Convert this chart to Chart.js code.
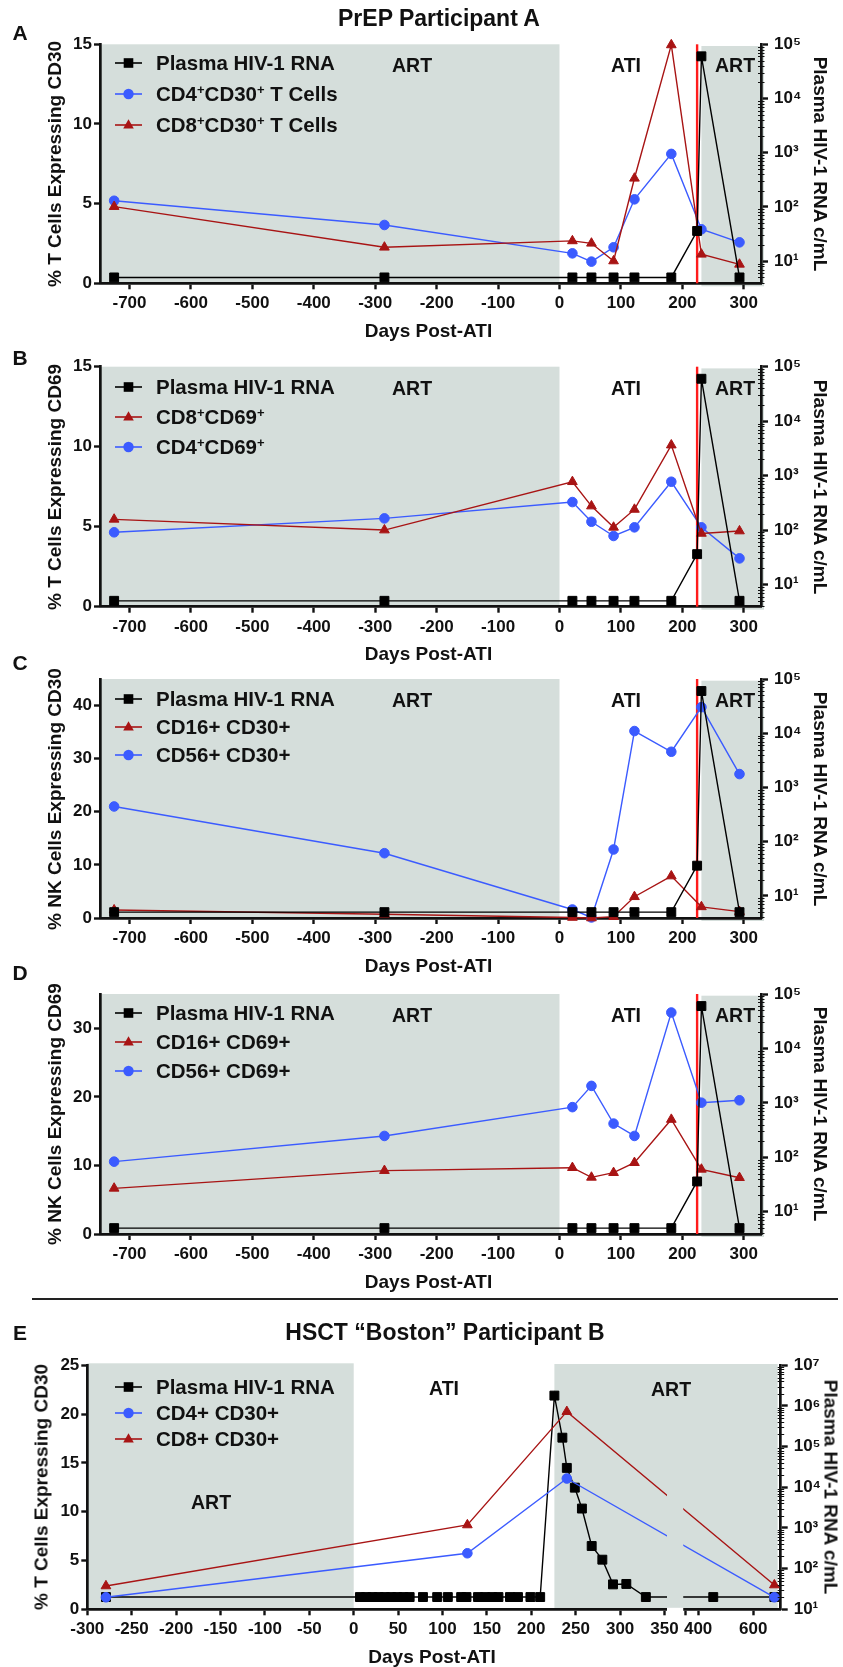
<!DOCTYPE html>
<html>
<head>
<meta charset="utf-8">
<title>CD30 / CD69 expression and plasma HIV-1 RNA</title>
<script src="https://cdn.jsdelivr.net/npm/chart.js@4.4.1/dist/chart.umd.min.js"></script>
<style>
  html, body { margin:0; padding:0; background:#fff; }
  #page { position:relative; width:843px; height:1667px; overflow:hidden; background:#fff;
          font-family:'Liberation Sans', Arial, Helvetica, sans-serif; font-weight:bold; color:#111; }
  #page canvas { position:absolute; left:0; top:0; }
  .t { position:absolute; white-space:nowrap; line-height:1; transform:translate(-50%,-50%); }
  .rl { transform:translate(-50%,-50%) rotate(-90deg); }
  .rr { transform:translate(-50%,-50%) rotate(90deg); }
  .lg { position:absolute; white-space:nowrap; line-height:1; font-size:20.5px; transform:translateY(-50%); }
  .lg sup { font-size:13px; line-height:0; vertical-align:0.5em; }
  .ic { position:absolute; }
  #sep { position:absolute; left:32px; top:1298px; width:806px; height:2px; background:#222; }
</style>
</head>
<body>
<div id="page">
  <canvas id="cA" width="843" height="1667"></canvas>
  <canvas id="cB" width="843" height="1667"></canvas>
  <canvas id="cC" width="843" height="1667"></canvas>
  <canvas id="cD" width="843" height="1667"></canvas>
  <canvas id="cE" width="843" height="1667"></canvas>
  <div id="sep"></div>
</div>
<script>
// ---------------- DATA ----------------
// Participant A (PrEP) – sampling days (days post-ATI)
const daysA = [-725, -285, 21, 52, 88, 122, 182, 231, 293];
const plasmaDaysA = [-725, -285, 21, 52, 88, 122, 182, 224, 231, 293];
const plasmaA = [5, 5, 5, 5, 5, 5, 5, 36, 60000, 5];           // c/mL
// Panel A – % T cells expressing CD30
const cd4cd30A = [5.18, 3.66, 1.88, 1.36, 2.26, 5.27, 8.12, 3.39, 2.57];
const cd8cd30A = [4.81, 2.26, 2.66, 2.51, 1.40, 6.59, 14.96, 1.82, 1.19];
// Panel B – % T cells expressing CD69
const cd8cd69B = [5.46, 4.79, 7.81, 6.29, 4.96, 6.08, 10.1, 4.58, 4.73];
const cd4cd69B = [4.65, 5.52, 6.54, 5.31, 4.42, 4.96, 7.81, 4.96, 3.02];
// Panel C – % NK cells expressing CD30
const cd16cd30C = [1.5, 0.7, 0.1, 0.0, 0.25, 4.0, 7.9, 2.1, 1.2];
const cd56cd30C = [21.0, 12.2, 1.6, 0.1, 12.9, 35.2, 31.3, 39.7, 27.1];
// Panel D – % NK cells expressing CD69
const cd16cd69D = [6.66, 9.24, 9.67, 8.26, 8.94, 10.4, 16.7, 9.43, 8.21];
const cd56cd69D = [10.55, 14.3, 18.5, 21.6, 16.1, 14.3, 32.3, 19.15, 19.5];
// Participant B (HSCT "Boston")
const daysE = [-279, 128, 240, 677];
const cd4cd30E = [1.23, 5.74, 13.4, 1.23];
const cd8cd30E = [2.39, 8.64, 20.25, 2.49];
const plasmaDaysE = [-279, 7, 14, 21, 28, 35, 42, 49, 56, 63, 78, 94, 106, 121, 127, 140, 148, 156, 163, 176, 185, 199, 210,
                     226, 235, 240, 249, 257, 268, 280, 292, 307, 329, 455, 677];
const plasmaE = [20, 20, 20, 20, 20, 20, 20, 20, 20, 20, 20, 20, 20, 20, 20, 20, 20, 20, 20, 20, 20, 20, 20,
                 1800000, 166000, 30000, 9800, 3000, 360, 166, 41, 42, 20, 20, 20];
// Treatment periods
const artStopDay = 0;            // ART interrupted
const artRestartA = 231;         // ART re-started (participant A)
const markerDayA = 224;          // red vertical marker
const artRestartE = 226;         // ART re-started (participant B)
// Tick labels
const xTicksA = [-700, -600, -500, -400, -300, -200, -100, 0, 100, 200, 300];
const xTicksE = [-300, -250, -200, -150, -100, -50, 0, 50, 100, 150, 200, 250, 300, 350, 400, 600];
const yTicksA = [0, 5, 10, 15];
const yTicksC = [0, 10, 20, 30, 40];
const yTicksD = [0, 10, 20, 30];
const yTicksE = [0, 5, 10, 15, 20, 25];
const logTicksA = [10, 100, 1000, 10000, 100000];
const logTicksE = [10, 100, 1000, 10000, 100000, 1000000, 10000000];

// ---------------- STYLE / LAYOUT ----------------
const W = 843, H = 1667;
const GREY = '#d5dedb', BLUE = '#3b5bff', DRED = '#a81414', BLK = '#000', VRED = '#ff1c1c', INK = '#111';
const FONT = "'Liberation Sans', Arial, Helvetica, sans-serif";
const SUP = ['\u2070','\u00b9','\u00b2','\u00b3','\u2074','\u2075','\u2076','\u2077','\u2078','\u2079'];
const LAY = {
  A: {L:100, R:761, T:44.3, B:283.3},
  B: {L:100, R:761, T:366.7, B:606.7},
  C: {L:100, R:761, T:679, B:918},
  D: {L:100, R:761, T:994, B:1234},
  E: {L:87.3, R:780.7, T:1365.3, B:1609.3}
};
// broken x axis for panel E
const BREAK_AT = 350, SEG2_START = 355, GAP = 23.9, SEG2_SCALE = 0.31;
function ue(d) { return d <= BREAK_AT ? d : BREAK_AT + GAP + (d - SEG2_START) * SEG2_SCALE; }

Chart.defaults.font.family = FONT;
Chart.defaults.font.weight = 'bold';
Chart.defaults.font.size = 17;
Chart.defaults.color = INK;

function series(label, xs, ys, color, style, radius, order, axis, xf) {
  return {
    label, yAxisID: axis, order,
    data: xs.map((x, i) => ({x: xf ? xf(x) : x, y: ys[i]})),
    borderColor: color, backgroundColor: color,
    pointBackgroundColor: color, pointBorderColor: color,
    pointStyle: style, pointRadius: radius, pointBorderWidth: 1,
    borderWidth: 1.4, tension: 0, clip: false, fill: false
  };
}
const tickGrid = {drawOnChartArea:false, drawTicks:true, tickLength:6, tickWidth:2.4, tickColor:INK};
const border = {display:true, width:2.7, color:INK};

function decor(cfg) {
  return {
    id: 'decor',
    beforeDraw(chart) {
      const {ctx, chartArea: ca} = chart, xs = chart.scales.x;
      ctx.save(); ctx.fillStyle = GREY;
      cfg.bands.forEach(b => {
        const x0 = b.from === null ? ca.left : xs.getPixelForValue(b.from);
        const x1 = b.to === null ? ca.right + (b.dR || 0) : xs.getPixelForValue(b.to);
        const y0 = ca.top + (b.dT || 0), y1 = ca.bottom + (b.dB || 0);
        ctx.fillRect(x0, y0, x1 - x0, y1 - y0);
      });
      ctx.restore();
    },
    beforeDatasetsDraw(chart) {
      if (cfg.marker === undefined) return;
      const {ctx, chartArea: ca} = chart;
      const x = chart.scales.x.getPixelForValue(cfg.marker);
      ctx.save(); ctx.strokeStyle = VRED; ctx.lineWidth = 2.4;
      ctx.beginPath(); ctx.moveTo(x, ca.top); ctx.lineTo(x, ca.bottom); ctx.stroke();
      ctx.restore();
    },
    afterDatasetsDraw(chart) {
      if (!cfg.gap) return;
      const {ctx, chartArea: ca} = chart, xs = chart.scales.x;
      const xa = xs.getPixelForValue(cfg.gap[0]) + 2.5, xb = xs.getPixelForValue(cfg.gap[1]) - 2.5;
      ctx.save();
      ctx.fillStyle = GREY; ctx.fillRect(xa, ca.top, xb - xa, ca.bottom - ca.top - 1.5);
      ctx.fillStyle = '#fff'; ctx.fillRect(xa, ca.bottom - 1.5, xb - xa, 4);
      ctx.restore();
    },
    afterDraw(chart) {
      const s = chart.scales.y2, {ctx} = chart, x = chart.chartArea.right;
      ctx.save(); ctx.strokeStyle = INK; ctx.lineWidth = 1;
      const e0 = Math.floor(Math.log10(s.min)), e1 = Math.ceil(Math.log10(s.max));
      for (let e = e0; e < e1; e++) {
        for (let m = 2; m <= 9; m++) {
          const v = m * Math.pow(10, e);
          if (v < s.min || v > s.max) continue;
          const y = Math.round(s.getPixelForValue(v)) + 0.5;
          ctx.beginPath(); ctx.moveTo(x - 3, y); ctx.lineTo(x + 3.5, y); ctx.stroke();
        }
      }
      ctx.restore();
    }
  };
}

function makePanel(id, lay, p) {
  return new Chart(document.getElementById(id), {
    type: 'line',
    data: {datasets: p.datasets},
    options: {
      responsive: false, animation: false, events: [], devicePixelRatio: 1,
      layout: {padding: {top: lay.T, bottom: H - lay.B - 40, left: 0, right: 0}},
      plugins: {legend: {display: false}, tooltip: {enabled: false}},
      scales: {
        x: {
          type: 'linear', min: p.xMin, max: p.xMax,
          afterFit: s => { s.height = 40; },
          afterBuildTicks: s => { s.ticks = p.xTickVals.map(v => ({value: v})); },
          ticks: {autoSkip: false, maxRotation: 0, padding: 4, callback: (v, i) => p.xTickLabels[i]},
          grid: tickGrid, border: border
        },
        y: {
          type: 'linear', position: 'left', min: 0, max: p.yMax,
          afterFit: s => { s.width = lay.L; },
          afterBuildTicks: s => { s.ticks = p.yTicks.map(v => ({value: v})); },
          ticks: {padding: 2, callback: v => String(v)},
          grid: tickGrid, border: border
        },
        y2: {
          type: 'logarithmic', position: 'right', min: p.logMin, max: p.logMax,
          afterFit: s => { s.width = W - lay.R; },
          afterBuildTicks: s => { s.ticks = p.logTicks.map(v => ({value: v})); },
          ticks: {padding: 6, callback: v => '10' + SUP[Math.round(Math.log10(v))]},
          grid: Object.assign({}, tickGrid, {tickLength: 7}), border: border
        }
      }
    },
    plugins: [decor(p.decor)]
  });
}

const bandsA = [{from: null, to: artStopDay}, {from: artRestartA, to: null, dT: 1.7, dB: 3, dR: 3}];
function panelAD(id, lay, yMax, yTicks, red, blue, redLabel, blueLabel) {
  return makePanel(id, lay, {
    xMin: -748, xMax: 328, xTickVals: xTicksA, xTickLabels: xTicksA.map(String),
    yMax, yTicks, logMin: 3.9, logMax: 100000, logTicks: logTicksA,
    datasets: [
      series('Plasma HIV-1 RNA', plasmaDaysA, plasmaA, BLK, 'rect', 6.3, 0, 'y2'),
      series(redLabel, daysA, red, DRED, 'triangle', 5.6, 1, 'y'),
      series(blueLabel, daysA, blue, BLUE, 'circle', 4.8, 2, 'y')
    ],
    decor: {bands: bandsA, marker: markerDayA}
  });
}
panelAD('cA', LAY.A, 15, yTicksA, cd8cd30A, cd4cd30A, 'CD8+CD30+ T Cells', 'CD4+CD30+ T Cells');
panelAD('cB', LAY.B, 15, yTicksA, cd8cd69B, cd4cd69B, 'CD8+CD69+', 'CD4+CD69+');
panelAD('cC', LAY.C, 45, yTicksC, cd16cd30C, cd56cd30C, 'CD16+ CD30+', 'CD56+ CD30+');
panelAD('cD', LAY.D, 35, yTicksD, cd16cd69D, cd56cd69D, 'CD16+ CD69+', 'CD56+ CD69+');

const ticksE = xTicksE.map(v => ({u: ue(v), label: String(v)}))
  .concat([{u: ue(SEG2_START), label: ''}]).sort((a, b) => a.u - b.u);
makePanel('cE', LAY.E, {
  xMin: -300, xMax: ue(700), xTickVals: ticksE.map(t => t.u), xTickLabels: ticksE.map(t => t.label),
  yMax: 25, yTicks: yTicksE, logMin: 10, logMax: 10000000, logTicks: logTicksE,
  datasets: [
    series('CD4+ CD30+', daysE, cd4cd30E, BLUE, 'circle', 4.8, 0, 'y', ue),
    series('CD8+ CD30+', daysE, cd8cd30E, DRED, 'triangle', 5.6, 1, 'y', ue),
    series('Plasma HIV-1 RNA', plasmaDaysE, plasmaE, BLK, 'rect', 6.3, 2, 'y2', ue)
  ],
  decor: {bands: [{from: null, to: artStopDay, dT: -2}, {from: ue(artRestartE), to: null, dT: -1.3, dB: -1, dR: -3}],
          gap: [ue(BREAK_AT), ue(SEG2_START)]}
});

// ---------------- TEXT OVERLAYS ----------------
const page = document.getElementById('page');
function txt(x, y, html, size, cls) {
  const d = document.createElement('div');
  d.className = 't' + (cls ? ' ' + cls : '');
  d.style.left = x + 'px'; d.style.top = y + 'px'; d.style.fontSize = size + 'px';
  d.innerHTML = html; page.appendChild(d);
}
const ICONS = {
  rect: c => `<line x1="0" y1="7" x2="27" y2="7" stroke="${c}" stroke-width="1.6"/><rect x="8.7" y="2.2" width="9.6" height="9.6" fill="${c}"/>`,
  circle: c => `<line x1="0" y1="7" x2="27" y2="7" stroke="${c}" stroke-width="1.6"/><circle cx="13.5" cy="7" r="5.2" fill="${c}"/>`,
  triangle: c => `<line x1="0" y1="7" x2="27" y2="7" stroke="${c}" stroke-width="1.6"/><polygon points="13.5,1.3 18.8,10.6 8.2,10.6" fill="${c}"/>`
};
function legend(rows) {
  rows.forEach(r => {
    const s = document.createElementNS('http://www.w3.org/2000/svg', 'svg');
    s.setAttribute('class', 'ic'); s.setAttribute('width', '27'); s.setAttribute('height', '14');
    s.style.left = '115px'; s.style.top = (r.y - 7) + 'px';
    s.innerHTML = ICONS[r.icon](r.color); page.appendChild(s);
    const d = document.createElement('div');
    d.className = 'lg'; d.style.left = '156px'; d.style.top = r.y + 'px';
    d.innerHTML = r.html; page.appendChild(d);
  });
}

// titles and panel letters
txt(439, 18, 'PrEP Participant A', 23);
txt(445, 1332, 'HSCT \u201cBoston\u201d Participant B', 23);
[['A', 32], ['B', 357], ['C', 662], ['D', 972], ['E', 1332]].forEach(p => txt(20, p[1], p[0], 21));

// axis titles
const yTitles = {A: '% T Cells Expressing CD30', B: '% T Cells Expressing CD69', C: '% NK Cells Expressing CD30',
                 D: '% NK Cells Expressing CD69', E: '% T Cells Expressing CD30'};
Object.keys(LAY).forEach(k => {
  const l = LAY[k], cy = (l.T + l.B) / 2;
  txt(l.L - 46.3, cy, yTitles[k], 19, 'rl');
  txt(k === 'E' ? 830.5 : 820, cy, 'Plasma HIV-1 RNA c/mL', 19, 'rr');
  txt((l.L + l.R) / 2 - 2, l.B + 46.5, 'Days Post-ATI', 19);
});

// period labels
['A', 'B', 'C', 'D'].forEach(k => {
  const y = LAY[k].T + 22;
  txt(412, y, 'ART', 19.5); txt(626, y, 'ATI', 19.5); txt(735, y, 'ART', 19.5);
});
txt(444, 1389, 'ATI', 19.5); txt(211, 1503, 'ART', 19.5); txt(671, 1390, 'ART', 19.5);

// legends
const P = '<sup>+</sup>';
legend([
  {y: 63.3, icon: 'rect', color: BLK, html: 'Plasma HIV-1 RNA'},
  {y: 94.3, icon: 'circle', color: BLUE, html: `CD4${P}CD30${P} T Cells`},
  {y: 125, icon: 'triangle', color: DRED, html: `CD8${P}CD30${P} T Cells`},
  {y: 386.7, icon: 'rect', color: BLK, html: 'Plasma HIV-1 RNA'},
  {y: 416.7, icon: 'triangle', color: DRED, html: `CD8${P}CD69${P}`},
  {y: 446.7, icon: 'circle', color: BLUE, html: `CD4${P}CD69${P}`},
  {y: 699, icon: 'rect', color: BLK, html: 'Plasma HIV-1 RNA'},
  {y: 726.7, icon: 'triangle', color: DRED, html: 'CD16+ CD30+'},
  {y: 755, icon: 'circle', color: BLUE, html: 'CD56+ CD30+'},
  {y: 1013, icon: 'rect', color: BLK, html: 'Plasma HIV-1 RNA'},
  {y: 1041.7, icon: 'triangle', color: DRED, html: 'CD16+ CD69+'},
  {y: 1070.7, icon: 'circle', color: BLUE, html: 'CD56+ CD69+'},
  {y: 1386.7, icon: 'rect', color: BLK, html: 'Plasma HIV-1 RNA'},
  {y: 1412.7, icon: 'circle', color: BLUE, html: 'CD4+ CD30+'},
  {y: 1439.3, icon: 'triangle', color: DRED, html: 'CD8+ CD30+'}
]);
</script>
</body>
</html>
